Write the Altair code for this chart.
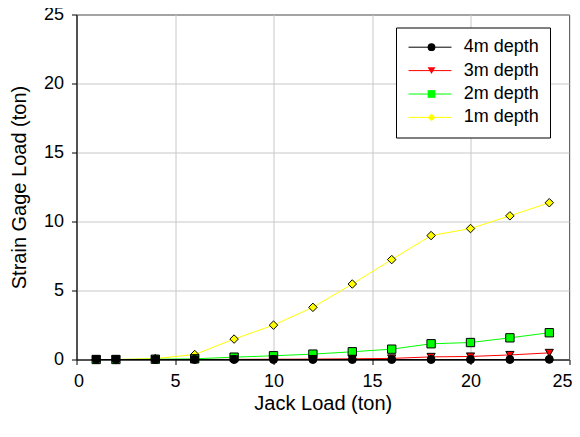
import altair as alt
import pandas as pd

jack_load = [1, 2, 4, 6, 8, 10, 12, 14, 16, 18, 20, 22, 24]
depth_1m = [0.0, 0.0, 0.07, 0.36, 1.48, 2.49, 3.78, 5.47, 7.24, 8.98, 9.49, 10.41, 11.36]
depth_2m = [0.0, 0.0, 0.02, 0.05, 0.17, 0.27, 0.39, 0.56, 0.75, 1.14, 1.23, 1.57, 1.94]
depth_3m = [0.0, 0.0, 0.0, 0.0, 0.01, 0.02, 0.03, 0.05, 0.08, 0.19, 0.22, 0.33, 0.48]
depth_4m = [0.0, 0.0, 0.0, 0.0, 0.0, 0.0, 0.0, 0.0, 0.0, 0.0, 0.0, 0.0, 0.01]

series_names = ["4m depth", "3m depth", "2m depth", "1m depth"]
line_colors = ["#000000", "#ff0000", "#00ff00", "#ffff00"]
marker_shapes = ["circle", "triangle-down", "square", "diamond"]
marker_sizes = [64, 72, 64, 110]

rows = []
# draw order: 1m first, 4m last (on top)
for name, vals in [("1m depth", depth_1m), ("2m depth", depth_2m),
                   ("3m depth", depth_3m), ("4m depth", depth_4m)]:
    for x, y in zip(jack_load, vals):
        rows.append({"jack": x, "load": y, "series": name, "series_pt": name})
df = pd.DataFrame(rows)

FONT = "Liberation Sans"

x_enc = alt.X("jack:Q", title="Jack Load (ton)",
              scale=alt.Scale(domain=[0, 25], nice=False, padding=0),
              axis=alt.Axis(values=[0, 5, 10, 15, 20, 25], format="d",
                            labelFlush=True, labelFlushOffset=3))
y_enc = alt.Y("load:Q", title="Strain Gage Load (ton)",
              scale=alt.Scale(domain=[0, 25], nice=False, padding=0),
              axis=alt.Axis(values=[0, 5, 10, 15, 20, 25], format="d", labelFlush=False))

legend_common = dict(
    orient="none",
    title=None,
    labelFont=FONT,
    labelFontSize=18,
    labelColor="#000000",
    padding=10.7,
    rowPadding=5.4,
)

lines = alt.Chart(df).mark_line(strokeWidth=1).encode(
    x=x_enc,
    y=y_enc,
    color=alt.Color(
        "series:N",
        sort=series_names,
        scale=alt.Scale(range=line_colors),
        legend=alt.Legend(
            symbolType="M-1,0L5,0",
            symbolSize=205,
            symbolStrokeWidth=1,
            labelOffset=39,
            legendX=319.5,
            legendY=13,
            fillColor="#ffffff",
            strokeColor="#000000",
            **legend_common,
        ),
    ),
)

pt_legend = alt.Legend(
    symbolSize=60,
    symbolStrokeColor="#000000",
    symbolStrokeWidth=1,
    labelOpacity=0,
    legendX=335.3,
    legendY=13,
    **legend_common,
)

points = alt.Chart(df).mark_point(filled=True, stroke="#000000", strokeWidth=1, opacity=1).encode(
    x="jack:Q",
    y="load:Q",
    fill=alt.Fill(
        "series_pt:N",
        scale=alt.Scale(domain=series_names, range=line_colors),
        legend=pt_legend,
    ),
    shape=alt.Shape(
        "series_pt:N",
        scale=alt.Scale(domain=series_names, range=marker_shapes),
        legend=pt_legend,
    ),
    size=alt.Size(
        "series_pt:N",
        sort=series_names,
        scale=alt.Scale(range=marker_sizes),
        legend=None,
    ),
)

chart = alt.layer(lines, points).properties(
    width=492.5,
    height=345,
    autosize=alt.AutoSizeParams(type="none"),
    padding={"left": 68.5, "top": 6.5, "right": 3, "bottom": 62},
).configure_view(
    stroke="#000000", strokeWidth=1
).configure_axis(
    labelFont=FONT,
    titleFont=FONT,
    labelFontSize=18,
    titleFontSize=20,
    titleFontWeight="normal",
    labelColor="#000000",
    titleColor="#000000",
    domainColor="#000000",
    tickColor="#000000",
    tickSize=5,
    gridColor="#c8c8c8",
    gridWidth=1,
    labelPadding=8,
).configure_axisY(
    titlePadding=14,
).configure_axisX(
    titlePadding=3,
)

chart.save("out.html", embed_options={"renderer": "svg", "actions": False})
